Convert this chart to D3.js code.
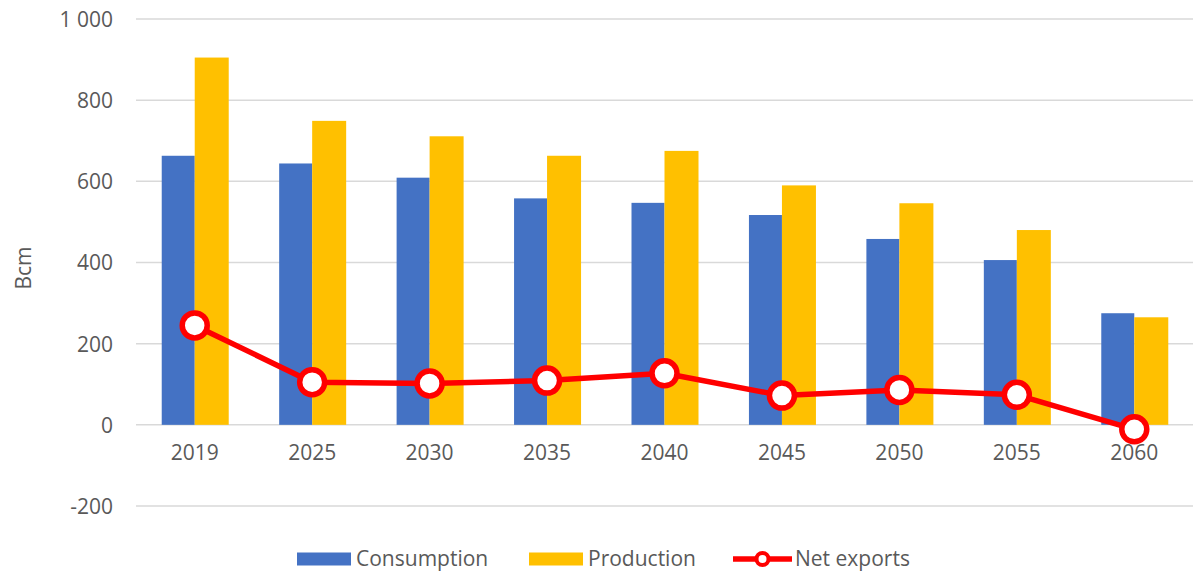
<!DOCTYPE html>
<html><head><meta charset="utf-8">
<script src="https://cdn.jsdelivr.net/npm/d3@7"></script>
<style>body{margin:0;background:#fff;} svg{display:block;font-family:"Open Sans",sans-serif;}</style>
</head><body>
<svg id="c" width="1198" height="571"></svg>
<script>
const years = ["2019","2025","2030","2035","2040","2045","2050","2055","2060"];
const consumption = [663, 644, 609, 558, 547, 517, 458, 406, 275];
const production = [905, 749, 711, 663, 675, 590, 546, 480, 265];
const netExports = [245, 105, 102, 109, 127, 72, 86, 74, -11];
const yTicks = [-200, 0, 200, 400, 600, 800, 1000];
const seriesNames = ["Consumption", "Production", "Net exports"];
const colors = {blue:"#4472C4", gold:"#FFC000", red:"#FF0000"};
const FONT = "'Open Sans', sans-serif";
const TXT = "#595959";

const svg = d3.select("#c");
const L = 136, R = 1193;
const y = d3.scaleLinear().domain([-200, 1000]).range([506, 19]);
const x = d3.scaleBand().domain(years).range([L, R]).paddingInner(0).paddingOuter(0);
const step = x.bandwidth();
const barW = 33;

// grid
svg.append("g").selectAll("line").data(yTicks).join("line")
  .attr("x1", L).attr("x2", R)
  .attr("y1", d => y(d)).attr("y2", d => y(d))
  .attr("stroke", "#d9d9d9").attr("stroke-width", 1.5);

// y axis labels
const fmt = d => d >= 1000 ? d3.format(",")(d).replace(",", " ") : String(d);
const yAxis = svg.append("g").attr("transform", `translate(${L - 23},0)`)
  .call(d3.axisLeft(y).tickValues(yTicks).tickFormat(fmt).tickSize(0).tickPadding(0));
yAxis.select(".domain").remove();
yAxis.selectAll("text").attr("fill", TXT).attr("font-size", 21)
  .attr("font-family", FONT).attr("dy", "0.35em");

// x axis labels
const xAxis = svg.append("g").attr("transform", `translate(0,${y(0)})`)
  .call(d3.axisBottom(x).tickSize(0).tickPadding(20));
xAxis.select(".domain").remove();
xAxis.selectAll("text").attr("fill", TXT).attr("font-size", 21)
  .attr("font-family", FONT);

// y label
svg.append("text").attr("transform", "translate(24,268) rotate(-90)")
  .attr("text-anchor", "middle").attr("dy", "0.35em")
  .attr("fill", TXT).attr("font-size", 21).attr("font-family", FONT).text("Bcm");

const cx = d => x(d) + step / 2;

// bars
svg.append("g").selectAll("rect").data(years).join("rect")
  .attr("x", d => cx(d) - barW).attr("width", barW)
  .attr("y", (d, i) => y(consumption[i]))
  .attr("height", (d, i) => y(0) - y(consumption[i]))
  .attr("fill", colors.blue);
svg.append("g").selectAll("rect").data(years).join("rect")
  .attr("x", d => cx(d)).attr("width", barW + 1)
  .attr("y", (d, i) => y(production[i]))
  .attr("height", (d, i) => y(0) - y(production[i]))
  .attr("fill", colors.gold);

// line
const line = d3.line().x((d, i) => cx(years[i])).y(d => y(d));
svg.append("path").datum(netExports).attr("d", line)
  .attr("fill", "none").attr("stroke", colors.red).attr("stroke-width", 5.5)
  .attr("stroke-linejoin", "round");
svg.append("g").selectAll("circle").data(netExports).join("circle")
  .attr("cx", (d, i) => cx(years[i])).attr("cy", d => y(d))
  .attr("r", 12.5).attr("fill", "#fff")
  .attr("stroke", colors.red).attr("stroke-width", 5.5);

// legend
const lg = svg.append("g").attr("font-size", 21).attr("font-family", FONT);
const ly = 559;
lg.append("rect").attr("x", 297).attr("y", ly - 6.5).attr("width", 54).attr("height", 13).attr("fill", colors.blue);
lg.append("text").attr("x", 356).attr("y", ly).attr("dy", "0.35em").attr("fill", TXT).text(seriesNames[0]);
lg.append("rect").attr("x", 529).attr("y", ly - 6.5).attr("width", 54).attr("height", 13).attr("fill", colors.gold);
lg.append("text").attr("x", 588).attr("y", ly).attr("dy", "0.35em").attr("fill", TXT).text(seriesNames[1]);
lg.append("line").attr("x1", 733).attr("x2", 792).attr("y1", ly).attr("y2", ly)
  .attr("stroke", colors.red).attr("stroke-width", 5.5);
lg.append("circle").attr("cx", 762.5).attr("cy", ly).attr("r", 6)
  .attr("fill", "#fff").attr("stroke", colors.red).attr("stroke-width", 4);
lg.append("text").attr("x", 795).attr("y", ly).attr("dy", "0.35em").attr("fill", TXT).text(seriesNames[2]);
</script>
</body></html>
